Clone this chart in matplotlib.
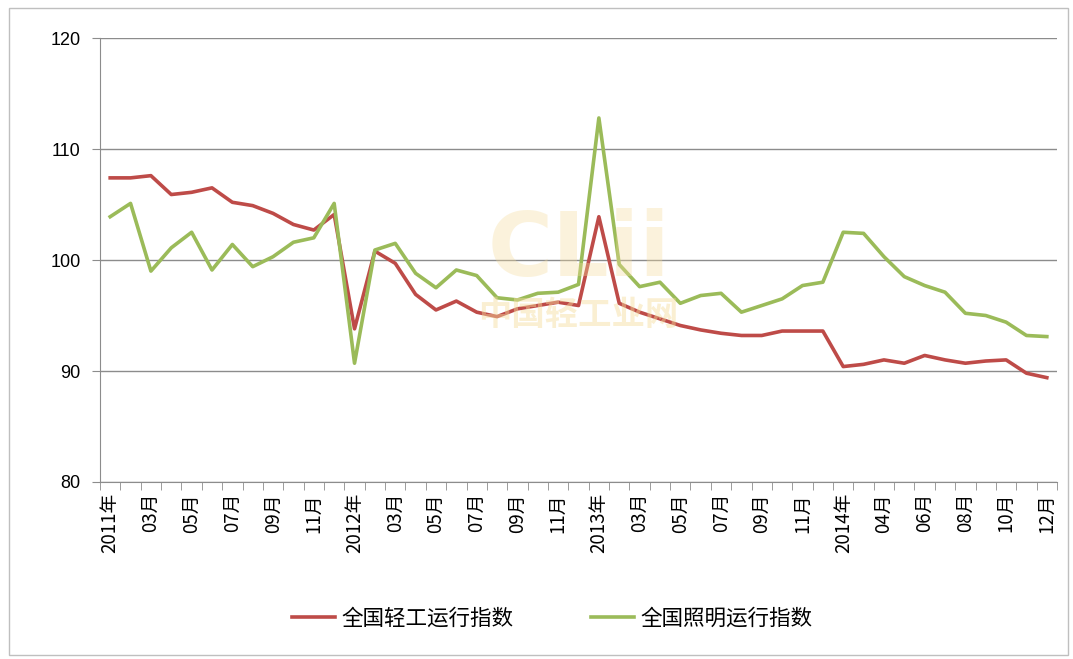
import matplotlib
matplotlib.use('Agg')
import matplotlib.pyplot as plt
from matplotlib.patches import Rectangle

plt.rcParams['font.family'] = ['Noto Sans CJK SC', 'DejaVu Sans']

# 类目：2011-2013 每年12个月，2014年1-2月合并
months_full = ['年'] + ['%02d月' % m for m in range(2, 13)]
months_2014 = ['年'] + ['%02d月' % m for m in range(3, 13)]
categories = ([('2011' + m) if m == '年' else m for m in months_full] +
              [('2012' + m) if m == '年' else m for m in months_full] +
              [('2013' + m) if m == '年' else m for m in months_full] +
              [('2014' + m) if m == '年' else m for m in months_2014])

light_industry = [107.4, 107.4, 107.6, 105.9, 106.1, 106.5, 105.2, 104.9, 104.2, 103.2,
                  102.7, 104.1, 93.8, 100.8, 99.7, 96.9, 95.5, 96.3, 95.3, 94.9,
                  95.6, 95.9, 96.2, 95.9, 103.9, 96.1, 95.3, 94.7, 94.1, 93.7,
                  93.4, 93.2, 93.2, 93.6, 93.6, 93.6, 90.4, 90.6, 91.0, 90.7,
                  91.4, 91.0, 90.7, 90.9, 91.0, 89.8, 89.4]
lighting = [103.9, 105.1, 99.0, 101.1, 102.5, 99.1, 101.4, 99.4, 100.3, 101.6,
            102.0, 105.1, 90.7, 100.9, 101.5, 98.8, 97.5, 99.1, 98.6, 96.6,
            96.4, 97.0, 97.1, 97.8, 112.8, 99.6, 97.6, 98.0, 96.1, 96.8,
            97.0, 95.3, 95.9, 96.5, 97.7, 98.0, 102.5, 102.4, 100.3, 98.5,
            97.7, 97.1, 95.2, 95.0, 94.4, 93.2, 93.1]
series_names = ['全国轻工运行指数', '全国照明运行指数']
y_ticks = [80, 90, 100, 110, 120]

fig = plt.figure(figsize=(10.73, 6.59), dpi=100)
fig.patches.append(Rectangle((0.008, 0.006), 0.987, 0.982, transform=fig.transFigure,
                             fill=False, edgecolor='#BFBFBF', linewidth=1.0))
ax = fig.add_axes([0.0932, 0.2686, 0.8919, 0.6737])

x = list(range(len(categories)))
ax.plot(x, light_industry, color='#BE4B48', linewidth=2.6, label=series_names[0], zorder=3)
ax.plot(x, lighting, color='#9BBB59', linewidth=2.6, label=series_names[1], zorder=3)

ax.set_xlim(-0.5, len(categories) - 0.5)
ax.set_ylim(80, 120)
ax.set_yticks(y_ticks)
ax.set_yticklabels([str(v) for v in y_ticks], fontsize=13, family=['Liberation Sans', 'DejaVu Sans'])
ax.yaxis.grid(True, color='#8C8C8C', linewidth=1.0)
ax.set_axisbelow(True)

ax.set_xticks(x[::2])
ax.set_xticklabels(categories[::2], rotation=90, fontsize=13.5)
ax.set_xticks([i - 0.5 for i in range(len(categories) + 1)], minor=True)
ax.tick_params(axis='x', which='major', length=0, pad=8)
ax.tick_params(axis='x', which='minor', length=6, color='#8C8C8C')
ax.tick_params(axis='y', length=6, color='#8C8C8C', pad=8)

for s in ['top', 'right']:
    ax.spines[s].set_visible(False)
for s in ['left', 'bottom']:
    ax.spines[s].set_color('#8C8C8C')

# 水印
ax.text(0.5, 0.52, 'CLii', transform=ax.transAxes, ha='center', va='center',
        fontsize=64, fontweight='bold', color='#F4DC9C', alpha=0.35,
        family=['DejaVu Sans'], zorder=4)
ax.text(0.5, 0.375, '中国轻工业网', transform=ax.transAxes, ha='center', va='center',
        fontsize=24, fontweight='bold', color='#F4DC9C', alpha=0.45, zorder=4)

fig.legend(loc='lower center', bbox_to_anchor=(0.515, 0.015), ncol=2, frameon=False,
           fontsize=15.5, handlelength=2.0, handletextpad=0.3, columnspacing=3.6)

plt.savefig('out.png', dpi=100)
